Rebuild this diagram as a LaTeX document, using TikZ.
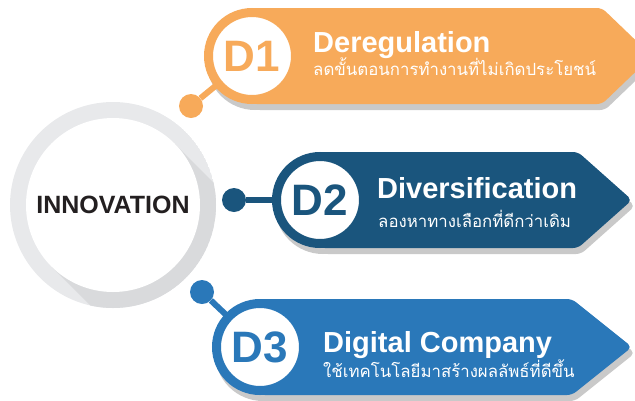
\documentclass[tikz,border=0pt]{standalone}
\usepackage{fontspec}
\setmainfont{Liberation Sans}
\newfontfamily\thaifont[Script=Thai]{Loma}
\definecolor{dOne}{HTML}{F7AA5A}
\definecolor{dTwo}{HTML}{1A557D}
\definecolor{dThree}{HTML}{2A78B9}
\definecolor{shadowgray}{HTML}{C9C9C9}
\definecolor{hubring}{HTML}{E8E9EB}
\definecolor{hubshade}{HTML}{D9DADC}
\definecolor{ink}{HTML}{231F20}

\begin{document}
\begin{tikzpicture}[x=1pt,y=-1pt,
    ring/.style = {circle,draw=#1,line width=9pt,fill=white,minimum size=87pt,inner sep=0pt,text=#1,font=\bfseries\fontsize{44}{44}\selectfont},
    dot/.style = {circle,fill=#1,minimum size=24pt,inner sep=0pt},
    stem/.style = {#1,line width=6pt},
    hub/.style = {circle,fill=white,minimum size=174pt,inner sep=0pt,text=ink,font=\bfseries\fontsize{25}{25}\selectfont},
    title/.style = {anchor=base west,inner sep=0pt,text=white,font=\bfseries\fontsize{29}{29}\selectfont},
    sub/.style = {anchor=base west,inner sep=0pt,text=white,font=\thaifont\fontsize{16.8}{16.8}\selectfont}]
\path[use as bounding box,clip] (0,0) rectangle (635,400);
% hub ring with its long shadow
\begin{scope}
    \clip (113,205) circle (103);
    \fill[hubring] (113,205) circle (103);
    \fill[hubshade] (174.5,143.5) -- (374.5,343.5) -- (251.5,466.5) -- (51.5,266.5) -- cycle;
\end{scope}
\node[hub] (hub) at (113,205) {INNOVATION};
% banners
\foreach \n/\col/\cx/\cy/\ex/\tx in {1/dOne/252/56/602/652, 2/dTwo/320/200/578/632, 3/dThree/260/347/572/632} {
    \fill[shadowgray,rounded corners=5pt,shift={(3,6)}] (\cx,\cy-48) -- (\ex,\cy-48) -- (\tx,\cy) -- (\ex,\cy+48) -- (\cx,\cy+48) -- cycle;
    \fill[shadowgray] (\cx+3,\cy+6) circle (48);
    \fill[\col,rounded corners=5pt] (\cx,\cy-48) -- (\ex,\cy-48) -- (\tx,\cy) -- (\ex,\cy+48) -- (\cx,\cy+48) -- cycle;
    \coordinate (c\n) at (\cx,\cy);
}
\node[dot=dOne] (p1) at (191,106) {};
\node[dot=dTwo] (p2) at (234,200) {};
\node[dot=dThree] (p3) at (202,292) {};
\draw[stem=dOne] (p1) -- (c1);
\draw[stem=dTwo] (p2) -- (c2);
\draw[stem=dThree] (p3) -- (c3);
\node[ring=dOne] (d1) at (c1) {D1};
\node[ring=dTwo] (d2) at (c2) {D2};
\node[ring=dThree] (d3) at (c3) {D3};
% labels
\node[title] (t1) at (313,52) {Deregulation};
\node[sub] (s1) at (313,75) {ลดขั้นตอนการทำงานที่ไม่เกิดประโยชน์};
\node[title] (t2) at (377,198) {Diversification};
\node[sub] (s2) at (378,227) {ลองหาทางเลือกที่ดีกว่าเดิม};
\node[title] (t3) at (323,352) {Digital Company};
\node[sub] (s3) at (323,377) {ใช้เทคโนโลยีมาสร้างผลลัพธ์ที่ดีขึ้น};
\end{tikzpicture}
\end{document}
